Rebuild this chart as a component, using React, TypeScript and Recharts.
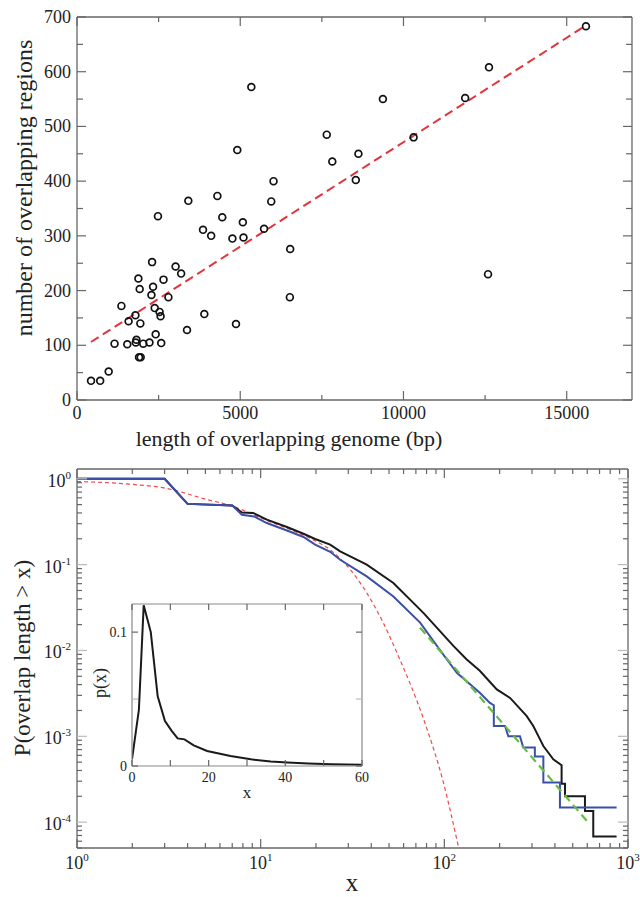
import React from 'react';
import { ScatterChart, Scatter, LineChart, Line, XAxis, YAxis, ReferenceLine } from 'recharts';

const FONT = '"Liberation Serif", "Times New Roman", serif';
const FRAME = '#666';
const INK = '#222';

// ---- top panel: regions vs overlapping length ----
const regionPoints: [number, number][] = [
  [430, 35], [710, 35], [970, 52], [1150, 103], [1360, 172], [1540, 102], [1580, 144],
  [1790, 155], [1820, 110], [1800, 105], [1880, 222], [1920, 203], [1940, 140], [1900, 78],
  [1950, 78], [2030, 103], [2220, 105], [2300, 252], [2280, 192], [2330, 207], [2380, 168],
  [2410, 120], [2480, 336], [2530, 161], [2560, 153], [2580, 104], [2650, 220], [2800, 188],
  [3020, 244], [3190, 231], [3370, 128], [3410, 364], [3860, 311], [3900, 157], [4110, 300],
  [4300, 373], [4450, 334], [4760, 295], [4870, 139], [4910, 457], [5080, 325], [5100, 297],
  [5340, 572], [5730, 313], [5950, 363], [6020, 400], [6530, 276], [6520, 188], [7650, 485],
  [7820, 436], [8620, 450], [8540, 402], [9370, 550], [10310, 480], [11890, 552], [12620, 608],
  [12590, 230], [15590, 683],
];
const fitEnds: [number, number][] = [[430, 106], [15600, 685]];
const lengthTicks = [0, 2500, 5000, 7500, 10000, 12500, 15000];
const regionTicks = [0, 50, 100, 150, 200, 250, 300, 350, 400, 450, 500, 550, 600, 650, 700];

// ---- bottom panel: cumulative distribution (log-log) ----
const ccdfAll: [number, number][] = [
  [1, 1], [3, 1], [4, 0.51], [7, 0.49], [7.9, 0.405], [9.1, 0.4], [10.8, 0.334], [13.9, 0.274],
  [17.1, 0.229], [19.8, 0.199], [23.9, 0.171], [27.1, 0.143], [37.8, 0.1], [52.8, 0.0612],
  [76.9, 0.0274], [112, 0.0113], [132, 0.0079], [156, 0.0058], [193, 0.00352], [228, 0.0028],
  [281, 0.00172], [305, 0.00132], [332, 0.00092], [346, 0.00077], [392, 0.00054], [435, 0.00046],
  [435, 0.00028], [454, 0.00028], [454, 0.0002], [583, 0.0002], [583, 0.000135], [647, 0.000135],
  [647, 0.000068], [867, 0.000068],
];
const ccdfSubset: [number, number][] = [
  [1, 1], [3, 1], [4, 0.51], [7, 0.49], [7.9, 0.38], [9.2, 0.364], [10.8, 0.305], [13.9, 0.25],
  [17.1, 0.21], [19.8, 0.171], [23.9, 0.141], [27.1, 0.114], [37.8, 0.073], [52.8, 0.0426],
  [73.8, 0.0211], [103, 0.0079], [117, 0.0055], [156, 0.00322], [177, 0.00245], [186, 0.0023],
  [186, 0.00132], [214, 0.00132], [223, 0.001], [258, 0.001], [269, 0.00074], [311, 0.00074],
  [311, 0.00058], [346, 0.00058], [346, 0.00029], [426, 0.00029], [426, 0.000148], [867, 0.000148],
];
const expFit: [number, number][] = [
  [1, 0.93], [2, 0.86], [3, 0.78], [5, 0.58], [7.1, 0.476], [10, 0.35], [14.5, 0.255], [20, 0.187],
  [23.9, 0.149], [34.9, 0.061], [46.5, 0.021], [57.2, 0.0079], [77, 0.0016], [98.8, 0.00029],
  [119, 0.000053],
];
const powerFit: [number, number][] = [[73.8, 0.0184], [596, 0.000104]];
const logXTicks = [1, 2, 3, 4, 5, 6, 7, 8, 9, 10, 20, 30, 40, 50, 60, 70, 80, 90, 100, 200, 300, 400, 500, 600, 700, 800, 900, 1000];
const logYTicks = [
  0.00005, 0.00006, 0.00007, 0.00008, 0.00009, 0.0001, 0.0002, 0.0003, 0.0004, 0.0005, 0.0006, 0.0007,
  0.0008, 0.0009, 0.001, 0.002, 0.003, 0.004, 0.005, 0.006, 0.007, 0.008, 0.009, 0.01, 0.02, 0.03,
  0.04, 0.05, 0.06, 0.07, 0.08, 0.09, 0.1, 0.2, 0.3, 0.4, 0.5, 0.6, 0.7, 0.8, 0.9, 1,
];

// ---- inset: density p(x) ----
const pdfPoints: [number, number][] = [
  [0, 0.005], [1.8, 0.042], [3.05, 0.12], [4.9, 0.1], [6.7, 0.052], [8.6, 0.0335], [10.4, 0.026],
  [11.9, 0.0206], [13.7, 0.0199], [16.1, 0.0154], [19.6, 0.0112], [25.7, 0.0074], [31, 0.005],
  [36.2, 0.0033], [40.5, 0.0026], [46, 0.0018], [52, 0.0013], [60, 0.001],
];
const insetXTicks = [0, 10, 20, 30, 40, 50, 60];
const insetYTicks = [0, 0.05, 0.1];

const toObj = (pts: [number, number][]) => pts.map(([x, y]) => ({ x, y }));

type Side = 'bottom' | 'left' | 'top' | 'right';
type TickOpts = {
  side: Side;
  isMajor: (v: number) => boolean;
  label?: (v: number) => React.ReactNode;
  majorLen: number;
  minorLen: number;
  majorColor?: string;
  minorColor?: string;
  gap?: number;
  fontSize?: number;
  dy?: number;
};

function frameTick(o: TickOpts) {
  return (props: any) => {
    const { x, y, payload } = props;
    const v = payload.value as number;
    const major = o.isMajor(v);
    const len = major ? o.majorLen : o.minorLen;
    let x2 = x;
    let y2 = y;
    if (o.side === 'bottom') y2 = y - len;
    if (o.side === 'top') y2 = y + len;
    if (o.side === 'left') x2 = x + len;
    if (o.side === 'right') x2 = x - len;
    const fs = o.fontSize ?? 18;
    const gap = o.gap ?? 6;
    const text = major && o.label ? o.label(v) : null;
    return (
      <g>
        <line x1={x} y1={y} x2={x2} y2={y2} stroke={major ? o.majorColor ?? FRAME : o.minorColor ?? FRAME} strokeWidth={1.2} />
        {text != null && o.side === 'bottom' && (
          <text x={x} y={y + gap + fs * 0.7} textAnchor="middle" fontSize={fs} fill={INK} fontFamily={FONT}>
            {text}
          </text>
        )}
        {text != null && o.side === 'left' && (
          <text x={x - gap} y={y + fs * 0.33 + (o.dy ?? 0)} textAnchor="end" fontSize={fs} fill={INK} fontFamily={FONT}>
            {text}
          </text>
        )}
      </g>
    );
  };
}

const isDecade = (v: number) => Math.abs(Math.log10(v) - Math.round(Math.log10(v))) < 1e-6;
const powerLabel = (v: number) => (
  <>
    10
    <tspan dy={-8} fontSize={11}>{Math.round(Math.log10(v))}</tspan>
  </>
);

const titleStyle: React.CSSProperties = {
  position: 'absolute',
  transform: 'translate(-50%, -50%)',
  whiteSpace: 'nowrap',
  fontFamily: FONT,
  color: INK,
  lineHeight: 1,
  pointerEvents: 'none',
};
const rotated: React.CSSProperties = { ...titleStyle, transform: 'translate(-50%, -50%) rotate(-90deg)' };

function RegionsPanel() {
  const noText = { tickSize: 0, tickMargin: 0, interval: 0 as const, axisLine: { stroke: FRAME, strokeWidth: 1.3 } };
  return (
    <ScatterChart width={640} height={460} margin={{ top: 7, right: 0, bottom: 10, left: 17 }}>
      <XAxis
        type="number" dataKey="x" domain={[0, 17000]} ticks={lengthTicks} height={50} allowDataOverflow
        {...noText}
        tick={frameTick({ side: 'bottom', isMajor: (v) => v % 5000 === 0, label: (v) => String(v), majorLen: 9, minorLen: 5, gap: 6 })}
      />
      <XAxis
        xAxisId="top" orientation="top" type="number" dataKey="x" domain={[0, 17000]} ticks={lengthTicks} height={10} allowDataOverflow
        {...noText}
        tick={frameTick({ side: 'top', isMajor: (v) => v % 5000 === 0, majorLen: 9, minorLen: 5 })}
      />
      <YAxis
        type="number" dataKey="y" domain={[0, 700]} ticks={regionTicks} width={60} allowDataOverflow
        {...noText}
        tick={frameTick({ side: 'left', isMajor: (v) => v % 100 === 0, label: (v) => String(v), majorLen: 9, minorLen: 6, gap: 6 })}
      />
      <YAxis
        yAxisId="right" orientation="right" type="number" dataKey="y" domain={[0, 700]} ticks={regionTicks} width={8} allowDataOverflow
        {...noText}
        tick={frameTick({ side: 'right', isMajor: (v) => v % 100 === 0, majorLen: 9, minorLen: 6 })}
      />
      <ReferenceLine
        segment={toObj(fitEnds)}
        stroke="#e3343c"
        strokeWidth={2}
        strokeDasharray="9 5"
        ifOverflow="visible"
      />
      <Scatter
        data={toObj(regionPoints)}
        isAnimationActive={false}
        shape={(p: any) => <circle cx={p.cx} cy={p.cy} r={3.4} fill="none" stroke="#111" strokeWidth={1.7} />}
      />
    </ScatterChart>
  );
}

function DistributionPanel() {
  const noText = { tickSize: 0, tickMargin: 0, interval: 0 as const, axisLine: { stroke: FRAME, strokeWidth: 1.3 } };
  const xTick = (side: Side, withLabel: boolean) =>
    frameTick({ side, isMajor: isDecade, label: withLabel ? powerLabel : undefined, majorLen: 9, minorLen: 5, gap: 8, fontSize: 18 });
  const yTick = (side: Side, withLabel: boolean) =>
    frameTick({ side, isMajor: isDecade, label: withLabel ? powerLabel : undefined, majorLen: 10, minorLen: 5, majorColor: '#bbb', gap: 6, fontSize: 18, dy: 2 });
  return (
    <LineChart width={640} height={457} margin={{ top: 19, right: 4, bottom: 9, left: 17 }}>
      <XAxis type="number" dataKey="x" scale="log" domain={[1, 1000]} ticks={logXTicks} height={40} allowDataOverflow {...noText} tick={xTick('bottom', true)} />
      <XAxis xAxisId="top" orientation="top" type="number" dataKey="x" scale="log" domain={[1, 1000]} ticks={logXTicks} height={10} allowDataOverflow {...noText} tick={xTick('top', false)} />
      <YAxis type="number" scale="log" domain={[0.00005, 1.3]} ticks={logYTicks} width={60} allowDataOverflow {...noText} tick={yTick('left', true)} />
      <YAxis yAxisId="right" orientation="right" type="number" scale="log" domain={[0.00005, 1.3]} ticks={logYTicks} width={8} allowDataOverflow {...noText} tick={yTick('right', false)} />
      <Line data={toObj(expFit)} dataKey="y" type="monotone" stroke="#f04a4a" strokeWidth={1.2} strokeDasharray="4 3" dot={false} isAnimationActive={false} />
      <Line data={toObj(ccdfAll)} dataKey="y" type="linear" stroke="#1a1a1a" strokeWidth={2} dot={false} isAnimationActive={false} />
      <Line data={toObj(ccdfSubset)} dataKey="y" type="linear" stroke="#3a4fa8" strokeWidth={2} dot={false} isAnimationActive={false} />
      <Line data={toObj(powerFit)} dataKey="y" type="linear" stroke="#66bb44" strokeWidth={2.2} strokeDasharray="8 5" dot={false} isAnimationActive={false} />
    </LineChart>
  );
}

function DensityInset() {
  const noText = { tickSize: 0, tickMargin: 0, interval: 0 as const, axisLine: { stroke: '#888', strokeWidth: 1.2 } };
  const xMajor = (v: number) => v % 20 === 0;
  const yMajor = (v: number) => v === 0 || v === 0.1;
  return (
    <LineChart width={290} height={220} margin={{ top: 10, right: 4, bottom: 14, left: 12 }}>
      <XAxis type="number" dataKey="x" domain={[0, 60]} ticks={insetXTicks} height={30} allowDataOverflow {...noText}
        tick={frameTick({ side: 'bottom', isMajor: xMajor, label: (v) => String(v), majorLen: 6, minorLen: 6, gap: 6, fontSize: 14 })} />
      <XAxis xAxisId="top" orientation="top" type="number" dataKey="x" domain={[0, 60]} ticks={insetXTicks} height={4} allowDataOverflow {...noText}
        tick={frameTick({ side: 'top', isMajor: xMajor, majorLen: 6, minorLen: 6 })} />
      <YAxis type="number" domain={[0, 0.121]} ticks={insetYTicks} width={40} allowDataOverflow {...noText}
        tick={frameTick({ side: 'left', isMajor: yMajor, label: (v) => String(v), majorLen: 6, minorLen: 6, minorColor: '#bbb', gap: 5, fontSize: 14 })} />
      <YAxis yAxisId="right" orientation="right" type="number" domain={[0, 0.121]} ticks={insetYTicks} width={4} allowDataOverflow {...noText}
        tick={frameTick({ side: 'right', isMajor: yMajor, majorLen: 6, minorLen: 6, minorColor: '#bbb' })} />
      <Line data={toObj(pdfPoints)} dataKey="y" type="linear" stroke="#1a1a1a" strokeWidth={2} dot={false} isAnimationActive={false} />
    </LineChart>
  );
}

export default function App() {
  return (
    <div style={{ position: 'absolute', left: 0, top: 0, width: 640, height: 897, background: '#fff', fontFamily: FONT, overflow: 'hidden' }}>
      <div style={{ position: 'absolute', left: 0, top: 0 }}>
        <RegionsPanel />
      </div>
      <div style={{ position: 'absolute', left: 0, top: 440 }}>
        <DistributionPanel />
      </div>
      <div style={{ position: 'absolute', left: 80, top: 590 }}>
        <DensityInset />
      </div>
      <div style={{ ...rotated, left: 24, top: 188, fontSize: 24 }}>number of overlapping regions</div>
      <div style={{ ...titleStyle, left: 289, top: 439, fontSize: 22 }}>length of overlapping genome (bp)</div>
      <div style={{ ...rotated, left: 22, top: 658, fontSize: 23 }}>P(overlap length &gt; x)</div>
      <div style={{ ...titleStyle, left: 352, top: 882, fontSize: 25 }}>x</div>
      <div style={{ ...rotated, left: 100, top: 683, fontSize: 18 }}>p(x)</div>
      <div style={{ ...titleStyle, left: 247, top: 792, fontSize: 17 }}>x</div>
    </div>
  );
}
